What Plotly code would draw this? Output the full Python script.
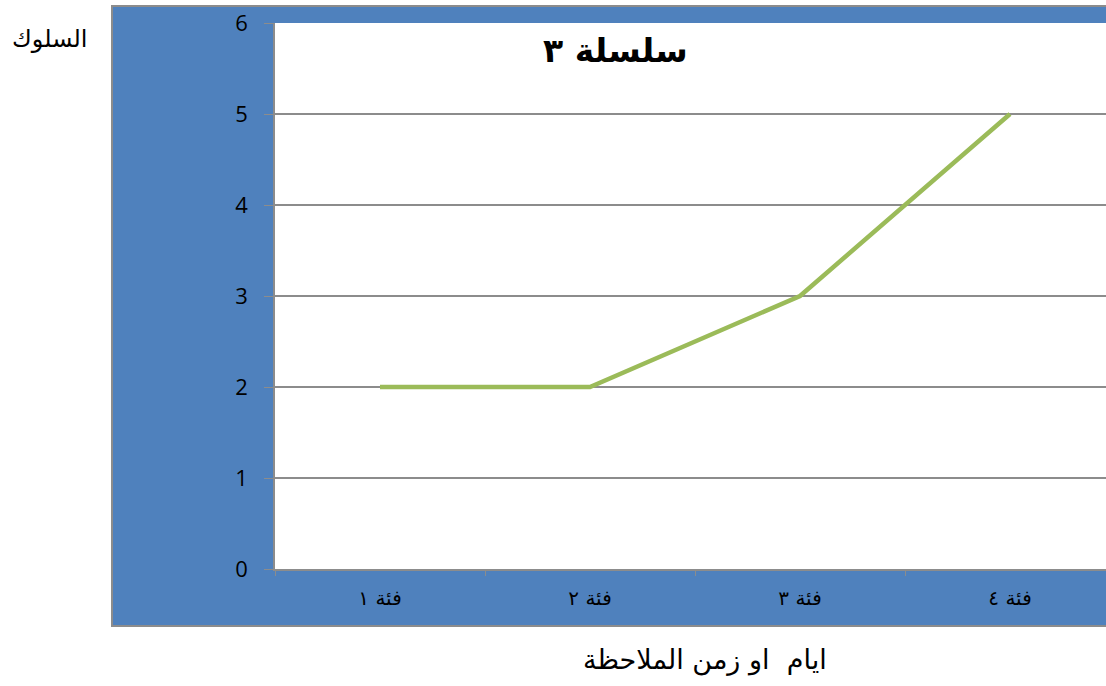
import plotly.graph_objects as go

categories = ["فئة ١", "فئة ٢", "فئة ٣", "فئة ٤"]
values = [2, 2, 3, 5]
y_ticks = [0, 1, 2, 3, 4, 5, 6]
chart_title = "سلسلة ٣"
y_title = "السلوك"
x_title = "ايام  او زمن الملاحظة"

W, H = 1106, 686
L, R, T, B = 275, 0, 23, 117
pw, ph = W - L - R, H - T - B

def px_x(p):
    return (p - L) / pw

def px_y(p):
    return (H - B - p) / ph

fig = go.Figure()
fig.add_trace(go.Scatter(
    x=categories, y=values, mode="lines",
    line=dict(color="#9BBB59", width=4.5),
    showlegend=False, hoverinfo="skip",
))

# blue chart-area background and white plot area
fig.add_shape(type="rect", xref="paper", yref="paper", layer="below",
              x0=px_x(112), x1=px_x(1120), y0=px_y(626), y1=px_y(6),
              fillcolor="#4F81BD", line=dict(color="#8C8C8C", width=2))
fig.add_shape(type="rect", xref="paper", yref="paper", layer="below",
              x0=0, x1=1.02, y0=0, y1=1,
              fillcolor="white", line=dict(width=0))

fig.update_layout(
    width=W, height=H,
    margin=dict(l=L, r=R, t=T, b=B),
    paper_bgcolor="white",
    plot_bgcolor="rgba(0,0,0,0)",
    font=dict(family="DejaVu Sans", color="black"),
    showlegend=False,
)
fig.update_xaxes(
    type="category", range=[-0.5, 3.5 - 9 / 210],
    tickson="boundaries", ticks="outside", ticklen=5, tickcolor="#8C8C8C",
    showgrid=False, showline=True, linecolor="#8C8C8C", linewidth=2,
    tickfont=dict(size=20, family="DejaVu Sans", color="black"),
    ticklabelstandoff=10, zeroline=False, fixedrange=True,
)
fig.update_yaxes(
    range=[0, 6], tickvals=y_ticks, ticks="outside", ticklen=9,
    tickcolor="#8C8C8C", showgrid=True, gridcolor="#8C8C8C", gridwidth=1.5,
    showline=True, linecolor="#8C8C8C", linewidth=1.5, zeroline=False,
    tickfont=dict(size=22, family="Open Sans", color="black"),
    ticklabelstandoff=12, fixedrange=True,
)

fig.add_annotation(text="<b>" + chart_title + "</b>", xref="paper", yref="paper",
                   x=px_x(615), y=px_y(50), showarrow=False,
                   font=dict(size=33, family="DejaVu Sans", color="black"),
                   xanchor="center", yanchor="middle")
fig.add_annotation(text=y_title, xref="paper", yref="paper",
                   x=px_x(50), y=px_y(39), showarrow=False,
                   font=dict(size=24, family="DejaVu Sans", color="black"),
                   xanchor="center", yanchor="middle")
fig.add_annotation(text=x_title, xref="paper", yref="paper",
                   x=px_x(705), y=px_y(660), showarrow=False,
                   font=dict(size=27, family="DejaVu Sans", color="black"),
                   xanchor="center", yanchor="middle")

fig.write_html("out.html")
